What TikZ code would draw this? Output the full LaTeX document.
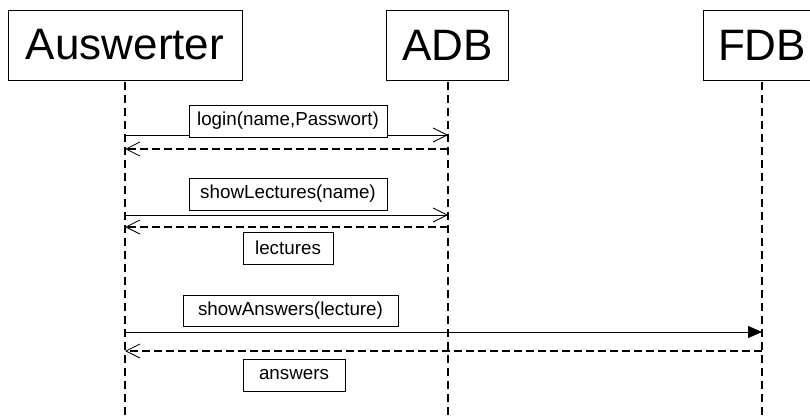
\documentclass[tikz,border=0pt]{standalone}
\usepackage{fontspec}
\setmainfont{Liberation Sans}
\usetikzlibrary{arrows.meta}

\tikzset{
  actor/.style={draw, line width=0.9pt, fill=white, inner sep=0pt,
    font=\fontsize{44}{48}\selectfont},
  msgbox/.style={draw, line width=0.9pt, fill=white, inner sep=0pt,
    font=\fontsize{18.8}{22}\selectfont},
  lifeline/.style={line width=1.7pt, dash pattern=on 8pt off 5pt},
  call/.style={line width=0.8pt, -{Straight Barb[length=14pt,width=14pt,line width=0.8pt]}},
  syncall/.style={line width=0.8pt, -{Triangle[length=14pt,width=12pt]}},
  reply/.style={line width=1.3pt, dash pattern=on 8pt off 4pt,
    -{Straight Barb[length=14pt,width=14pt,line width=0.8pt]}},
}

\begin{document}
\begin{tikzpicture}[x=1pt, y=-1pt]
  \clip (0,0) rectangle (810,417);
  \fill[white] (0,0) rectangle (810,417);

  % lifeline heads
  \node[actor, minimum width=234pt, minimum height=70pt] (aus) at (125,45) {Auswerter};
  \node[actor, minimum width=122pt, minimum height=70pt] (adb) at (447.5,45) {ADB};
  \node[actor, minimum width=118pt, minimum height=70pt] (fdb) at (762,45) {FDB};

  % lifeline ends
  \coordinate (ausEnd) at (125,420);
  \coordinate (adbEnd) at (448,420);
  \coordinate (fdbEnd) at (762,420);

  % message anchor points on the lifelines
  \coordinate (a1) at (125,135);  \coordinate (b1) at (448,135);
  \coordinate (a2) at (125,149);  \coordinate (b2) at (448,149);
  \coordinate (a3) at (125,215);  \coordinate (b3) at (448,215);
  \coordinate (a4) at (125,227);  \coordinate (b4) at (448,227);
  \coordinate (a5) at (125,332);  \coordinate (f5) at (762,332);
  \coordinate (a6) at (125,351);  \coordinate (f6) at (762,351);

  % lifelines
  \draw[lifeline] (125,82) -- (ausEnd);
  \draw[lifeline] (448,82) -- (adbEnd);
  \draw[lifeline] (762,82) -- (fdbEnd);

  % messages
  \draw[call] (a1) -- (b1);
  \draw[reply] (b2) -- (a2);
  \draw[call] (a3) -- (b3);
  \draw[reply] (b4) -- (a4);
  \draw[syncall] (a5) -- (f5);
  \draw[reply] (f6) -- (a6);

  % message labels
  \node[msgbox, minimum width=198pt, minimum height=32pt] (m1) at (288,121) {login(name,Passwort)};
  \node[msgbox, minimum width=198pt, minimum height=32pt] (m2) at (288,194) {showLectures(name)};
  \node[msgbox, minimum width=90pt, minimum height=32pt] (r2) at (288,248) {lectures};
  \node[msgbox, minimum width=215pt, minimum height=31pt] (m3) at (290.5,310.5) {showAnswers(lecture)};
  \node[msgbox, minimum width=102pt, minimum height=32pt] (r3) at (294,375) {answers};
\end{tikzpicture}
\end{document}
